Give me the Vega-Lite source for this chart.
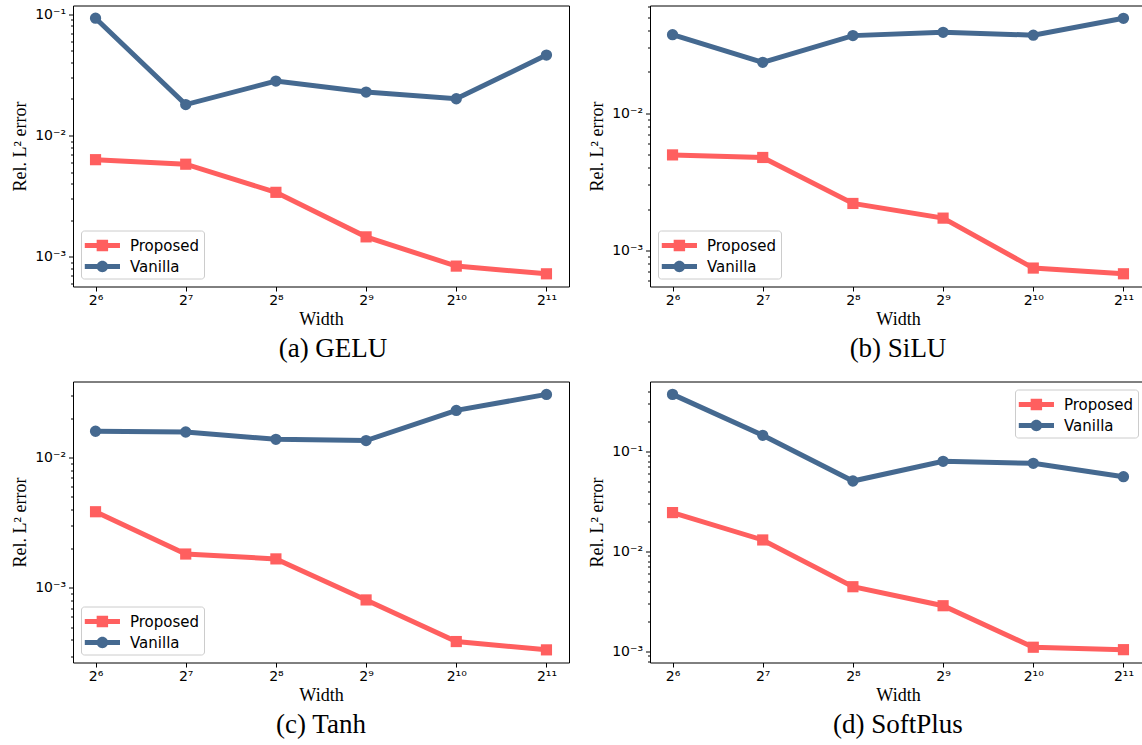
{
  "$schema": "https://vega.github.io/schema/vega-lite/v6.json",
  "background": "white",
  "padding": {"left": 10, "top": -1.5, "right": 0, "bottom": 0},
  "datasets": {
    "errors": [
      {"act": "GELU", "method": "Proposed", "width": 64, "error": 0.00632},
      {"act": "GELU", "method": "Proposed", "width": 128, "error": 0.0058},
      {"act": "GELU", "method": "Proposed", "width": 256, "error": 0.0034},
      {"act": "GELU", "method": "Proposed", "width": 512, "error": 0.00146},
      {"act": "GELU", "method": "Proposed", "width": 1024, "error": 0.000838},
      {"act": "GELU", "method": "Proposed", "width": 2048, "error": 0.000724},
      {"act": "GELU", "method": "Vanilla", "width": 64, "error": 0.0927},
      {"act": "GELU", "method": "Vanilla", "width": 128, "error": 0.018},
      {"act": "GELU", "method": "Vanilla", "width": 256, "error": 0.0281},
      {"act": "GELU", "method": "Vanilla", "width": 512, "error": 0.0228},
      {"act": "GELU", "method": "Vanilla", "width": 1024, "error": 0.0201},
      {"act": "GELU", "method": "Vanilla", "width": 2048, "error": 0.046},
      {"act": "SiLU", "method": "Proposed", "width": 64, "error": 0.00497},
      {"act": "SiLU", "method": "Proposed", "width": 128, "error": 0.00476},
      {"act": "SiLU", "method": "Proposed", "width": 256, "error": 0.0022},
      {"act": "SiLU", "method": "Proposed", "width": 512, "error": 0.00172},
      {"act": "SiLU", "method": "Proposed", "width": 1024, "error": 0.000744},
      {"act": "SiLU", "method": "Proposed", "width": 2048, "error": 0.000676},
      {"act": "SiLU", "method": "Vanilla", "width": 64, "error": 0.0374},
      {"act": "SiLU", "method": "Vanilla", "width": 128, "error": 0.0235},
      {"act": "SiLU", "method": "Vanilla", "width": 256, "error": 0.0368},
      {"act": "SiLU", "method": "Vanilla", "width": 512, "error": 0.0389},
      {"act": "SiLU", "method": "Vanilla", "width": 1024, "error": 0.0371},
      {"act": "SiLU", "method": "Vanilla", "width": 2048, "error": 0.0492},
      {"act": "Tanh", "method": "Proposed", "width": 64, "error": 0.00384},
      {"act": "Tanh", "method": "Proposed", "width": 128, "error": 0.00182},
      {"act": "Tanh", "method": "Proposed", "width": 256, "error": 0.00167},
      {"act": "Tanh", "method": "Proposed", "width": 512, "error": 0.000809},
      {"act": "Tanh", "method": "Proposed", "width": 1024, "error": 0.000388},
      {"act": "Tanh", "method": "Proposed", "width": 2048, "error": 0.000335},
      {"act": "Tanh", "method": "Vanilla", "width": 64, "error": 0.0159},
      {"act": "Tanh", "method": "Vanilla", "width": 128, "error": 0.0157},
      {"act": "Tanh", "method": "Vanilla", "width": 256, "error": 0.0138},
      {"act": "Tanh", "method": "Vanilla", "width": 512, "error": 0.0135},
      {"act": "Tanh", "method": "Vanilla", "width": 1024, "error": 0.023},
      {"act": "Tanh", "method": "Vanilla", "width": 2048, "error": 0.0305},
      {"act": "SoftPlus", "method": "Proposed", "width": 64, "error": 0.0244},
      {"act": "SoftPlus", "method": "Proposed", "width": 128, "error": 0.013},
      {"act": "SoftPlus", "method": "Proposed", "width": 256, "error": 0.00443},
      {"act": "SoftPlus", "method": "Proposed", "width": 512, "error": 0.00286},
      {"act": "SoftPlus", "method": "Proposed", "width": 1024, "error": 0.0011},
      {"act": "SoftPlus", "method": "Proposed", "width": 2048, "error": 0.00104},
      {"act": "SoftPlus", "method": "Vanilla", "width": 64, "error": 0.371},
      {"act": "SoftPlus", "method": "Vanilla", "width": 128, "error": 0.1445},
      {"act": "SoftPlus", "method": "Vanilla", "width": 256, "error": 0.0505},
      {"act": "SoftPlus", "method": "Vanilla", "width": 512, "error": 0.0794},
      {"act": "SoftPlus", "method": "Vanilla", "width": 1024, "error": 0.0759},
      {"act": "SoftPlus", "method": "Vanilla", "width": 2048, "error": 0.0558}
    ]
  },
  "columns": 2,
  "spacing": {"row": 95, "column": 81},
  "bounds": "flush",
  "resolve": {
    "scale": {"x": "independent", "y": "independent", "color": "independent", "shape": "independent"},
    "axis": {"x": "independent", "y": "independent"},
    "legend": {"color": "independent", "shape": "independent"}
  },
  "concat": [
    {
      "width": 496, "height": 281,
      "title": {"text": "(a) GELU", "orient": "bottom", "dx": 12, "offset": 8},
      "data": {"name": "errors"},
      "transform": [{"filter": "datum.act === 'GELU'"}],
      "encoding": {
        "x": {"field": "width", "type": "quantitative", "title": "Width",
          "scale": {"type": "log", "base": 2, "domain": [53.82, 2435.5], "nice": false},
          "axis": {"values": [64, 128, 256, 512, 1024, 2048], "labelExpr": "datum.value === 64 ? '2⁶' : datum.value === 128 ? '2⁷' : datum.value === 256 ? '2⁸' : datum.value === 512 ? '2⁹' : datum.value === 1024 ? '2¹⁰' : '2¹¹'", "tickSize": 4.5, "labelPadding": 2, "titlePadding": 3, "labelFlush": false, "labelOverlap": false}},
        "y": {"field": "error", "type": "quantitative", "title": "Rel. L² error",
          "scale": {"type": "log", "domain": [0.000569, 0.118], "nice": false},
          "axis": {"values": [0.0006, 0.0007, 0.0008, 0.0009, 0.001, 0.002, 0.003, 0.004, 0.005, 0.006, 0.007, 0.008, 0.009, 0.01, 0.02, 0.03, 0.04, 0.05, 0.06, 0.07, 0.08, 0.09, 0.1],
            "labelExpr": "datum.value === 0.1 ? '10⁻¹' : datum.value === 0.01 ? '10⁻²' : datum.value === 0.001 ? '10⁻³' : ''",
            "tickSize": {"condition": {"test": "datum.value === 0.1 || datum.value === 0.01 || datum.value === 0.001", "value": 4.5}, "value": 2.5},
            "labelPadding": 3, "titlePadding": 5.5, "labelFlush": false, "labelOverlap": false}}
      },
      "layer": [
        {"transform": [{"filter": "datum.method === 'Proposed'"}],
         "mark": {"type": "line", "color": "#FF5F5F", "strokeWidth": 5, "point": {"shape": "square", "size": 125, "filled": true, "opacity": 1, "color": "#FF5F5F"}},
         "encoding": {}},
        {"transform": [{"filter": "datum.method === 'Vanilla'"}],
         "mark": {"type": "line", "color": "#456990", "strokeWidth": 5, "point": {"shape": "circle", "size": 128, "filled": true, "opacity": 1, "color": "#456990"}},
         "encoding": {}},
        {"transform": [{"filter": "false"}],
         "mark": {"type": "point", "filled": true, "opacity": 1},
         "encoding": {
           "color": {"field": "method", "type": "nominal", "scale": {"domain": ["Proposed", "Vanilla"], "range": ["#FF5F5F", "#456990"]},
             "legend": {"title": null, "orient": "bottom-left", "offset": 8, "fillColor": "white", "strokeColor": "#cccccc", "cornerRadius": 3, "padding": 4, "symbolSize": 484, "symbolOpacity": 1, "symbolStrokeWidth": 0, "labelFont": "DejaVu Sans", "labelFontSize": 15, "labelColor": "black", "labelOffset": 23, "rowPadding": 2}},
           "shape": {"field": "method", "type": "nominal", "scale": {"domain": ["Proposed", "Vanilla"], "range": ["M-1.02,-0.23L2.18,-0.23L2.18,0.23L-1.02,0.23Z M0.06,-0.52L1.1,-0.52L1.1,0.52L0.06,0.52Z", "M-1.02,-0.23L2.18,-0.23L2.18,0.23L-1.02,0.23Z M1.1,0A0.52,0.52,0,1,1,0.06,0A0.52,0.52,0,1,1,1.1,0Z"]}}
         }}
      ]
    },
    {
      "width": 496, "height": 281,
      "title": {"text": "(b) SiLU", "orient": "bottom", "offset": 8},
      "data": {"name": "errors"},
      "transform": [{"filter": "datum.act === 'SiLU'"}],
      "encoding": {
        "x": {"field": "width", "type": "quantitative", "title": "Width",
          "scale": {"type": "log", "base": 2, "domain": [53.82, 2435.5], "nice": false},
          "axis": {"values": [64, 128, 256, 512, 1024, 2048], "labelExpr": "datum.value === 64 ? '2⁶' : datum.value === 128 ? '2⁷' : datum.value === 256 ? '2⁸' : datum.value === 512 ? '2⁹' : datum.value === 1024 ? '2¹⁰' : '2¹¹'", "tickSize": 4.5, "labelPadding": 2, "titlePadding": 3, "labelFlush": false, "labelOverlap": false}},
        "y": {"field": "error", "type": "quantitative", "title": "Rel. L² error",
          "scale": {"type": "log", "domain": [0.000546, 0.061], "nice": false},
          "axis": {"values": [0.0006, 0.0007, 0.0008, 0.0009, 0.001, 0.002, 0.003, 0.004, 0.005, 0.006, 0.007, 0.008, 0.009, 0.01, 0.02, 0.03, 0.04, 0.05, 0.06],
            "labelExpr": "datum.value === 0.1 ? '10⁻¹' : datum.value === 0.01 ? '10⁻²' : datum.value === 0.001 ? '10⁻³' : ''",
            "tickSize": {"condition": {"test": "datum.value === 0.1 || datum.value === 0.01 || datum.value === 0.001", "value": 4.5}, "value": 2.5},
            "labelPadding": 3, "titlePadding": 5.5, "labelFlush": false, "labelOverlap": false}}
      },
      "layer": [
        {"transform": [{"filter": "datum.method === 'Proposed'"}],
         "mark": {"type": "line", "color": "#FF5F5F", "strokeWidth": 5, "point": {"shape": "square", "size": 125, "filled": true, "opacity": 1, "color": "#FF5F5F"}},
         "encoding": {}},
        {"transform": [{"filter": "datum.method === 'Vanilla'"}],
         "mark": {"type": "line", "color": "#456990", "strokeWidth": 5, "point": {"shape": "circle", "size": 128, "filled": true, "opacity": 1, "color": "#456990"}},
         "encoding": {}},
        {"transform": [{"filter": "false"}],
         "mark": {"type": "point", "filled": true, "opacity": 1},
         "encoding": {
           "color": {"field": "method", "type": "nominal", "scale": {"domain": ["Proposed", "Vanilla"], "range": ["#FF5F5F", "#456990"]},
             "legend": {"title": null, "orient": "bottom-left", "offset": 8, "fillColor": "white", "strokeColor": "#cccccc", "cornerRadius": 3, "padding": 4, "symbolSize": 484, "symbolOpacity": 1, "symbolStrokeWidth": 0, "labelFont": "DejaVu Sans", "labelFontSize": 15, "labelColor": "black", "labelOffset": 23, "rowPadding": 2}},
           "shape": {"field": "method", "type": "nominal", "scale": {"domain": ["Proposed", "Vanilla"], "range": ["M-1.02,-0.23L2.18,-0.23L2.18,0.23L-1.02,0.23Z M0.06,-0.52L1.1,-0.52L1.1,0.52L0.06,0.52Z", "M-1.02,-0.23L2.18,-0.23L2.18,0.23L-1.02,0.23Z M1.1,0A0.52,0.52,0,1,1,0.06,0A0.52,0.52,0,1,1,1.1,0Z"]}}
         }}
      ]
    },
    {
      "width": 496, "height": 281,
      "title": {"text": "(c) Tanh", "orient": "bottom", "offset": 8},
      "data": {"name": "errors"},
      "transform": [{"filter": "datum.act === 'Tanh'"}],
      "encoding": {
        "x": {"field": "width", "type": "quantitative", "title": "Width",
          "scale": {"type": "log", "base": 2, "domain": [53.82, 2435.5], "nice": false},
          "axis": {"values": [64, 128, 256, 512, 1024, 2048], "labelExpr": "datum.value === 64 ? '2⁶' : datum.value === 128 ? '2⁷' : datum.value === 256 ? '2⁸' : datum.value === 512 ? '2⁹' : datum.value === 1024 ? '2¹⁰' : '2¹¹'", "tickSize": 4.5, "labelPadding": 2, "titlePadding": 3, "labelFlush": false, "labelOverlap": false}},
        "y": {"field": "error", "type": "quantitative", "title": "Rel. L² error",
          "scale": {"type": "log", "domain": [0.000268, 0.0383], "nice": false},
          "axis": {"values": [0.0003, 0.0004, 0.0005, 0.0006, 0.0007, 0.0008, 0.0009, 0.001, 0.002, 0.003, 0.004, 0.005, 0.006, 0.007, 0.008, 0.009, 0.01, 0.02, 0.03],
            "labelExpr": "datum.value === 0.1 ? '10⁻¹' : datum.value === 0.01 ? '10⁻²' : datum.value === 0.001 ? '10⁻³' : ''",
            "tickSize": {"condition": {"test": "datum.value === 0.1 || datum.value === 0.01 || datum.value === 0.001", "value": 4.5}, "value": 2.5},
            "labelPadding": 3, "titlePadding": 5.5, "labelFlush": false, "labelOverlap": false}}
      },
      "layer": [
        {"transform": [{"filter": "datum.method === 'Proposed'"}],
         "mark": {"type": "line", "color": "#FF5F5F", "strokeWidth": 5, "point": {"shape": "square", "size": 125, "filled": true, "opacity": 1, "color": "#FF5F5F"}},
         "encoding": {}},
        {"transform": [{"filter": "datum.method === 'Vanilla'"}],
         "mark": {"type": "line", "color": "#456990", "strokeWidth": 5, "point": {"shape": "circle", "size": 128, "filled": true, "opacity": 1, "color": "#456990"}},
         "encoding": {}},
        {"transform": [{"filter": "false"}],
         "mark": {"type": "point", "filled": true, "opacity": 1},
         "encoding": {
           "color": {"field": "method", "type": "nominal", "scale": {"domain": ["Proposed", "Vanilla"], "range": ["#FF5F5F", "#456990"]},
             "legend": {"title": null, "orient": "bottom-left", "offset": 8, "fillColor": "white", "strokeColor": "#cccccc", "cornerRadius": 3, "padding": 4, "symbolSize": 484, "symbolOpacity": 1, "symbolStrokeWidth": 0, "labelFont": "DejaVu Sans", "labelFontSize": 15, "labelColor": "black", "labelOffset": 23, "rowPadding": 2}},
           "shape": {"field": "method", "type": "nominal", "scale": {"domain": ["Proposed", "Vanilla"], "range": ["M-1.02,-0.23L2.18,-0.23L2.18,0.23L-1.02,0.23Z M0.06,-0.52L1.1,-0.52L1.1,0.52L0.06,0.52Z", "M-1.02,-0.23L2.18,-0.23L2.18,0.23L-1.02,0.23Z M1.1,0A0.52,0.52,0,1,1,0.06,0A0.52,0.52,0,1,1,1.1,0Z"]}}
         }}
      ]
    },
    {
      "width": 496, "height": 281,
      "title": {"text": "(d) SoftPlus", "orient": "bottom", "offset": 8},
      "data": {"name": "errors"},
      "transform": [{"filter": "datum.act === 'SoftPlus'"}],
      "encoding": {
        "x": {"field": "width", "type": "quantitative", "title": "Width",
          "scale": {"type": "log", "base": 2, "domain": [53.82, 2435.5], "nice": false},
          "axis": {"values": [64, 128, 256, 512, 1024, 2048], "labelExpr": "datum.value === 64 ? '2⁶' : datum.value === 128 ? '2⁷' : datum.value === 256 ? '2⁸' : datum.value === 512 ? '2⁹' : datum.value === 1024 ? '2¹⁰' : '2¹¹'", "tickSize": 4.5, "labelPadding": 2, "titlePadding": 3, "labelFlush": false, "labelOverlap": false}},
        "y": {"field": "error", "type": "quantitative", "title": "Rel. L² error",
          "scale": {"type": "log", "domain": [0.000774, 0.499], "nice": false},
          "axis": {"values": [0.0008, 0.0009, 0.001, 0.002, 0.003, 0.004, 0.005, 0.006, 0.007, 0.008, 0.009, 0.01, 0.02, 0.03, 0.04, 0.05, 0.06, 0.07, 0.08, 0.09, 0.1, 0.2, 0.3, 0.4],
            "labelExpr": "datum.value === 0.1 ? '10⁻¹' : datum.value === 0.01 ? '10⁻²' : datum.value === 0.001 ? '10⁻³' : ''",
            "tickSize": {"condition": {"test": "datum.value === 0.1 || datum.value === 0.01 || datum.value === 0.001", "value": 4.5}, "value": 2.5},
            "labelPadding": 3, "titlePadding": 5.5, "labelFlush": false, "labelOverlap": false}}
      },
      "layer": [
        {"transform": [{"filter": "datum.method === 'Proposed'"}],
         "mark": {"type": "line", "color": "#FF5F5F", "strokeWidth": 5, "point": {"shape": "square", "size": 125, "filled": true, "opacity": 1, "color": "#FF5F5F"}},
         "encoding": {}},
        {"transform": [{"filter": "datum.method === 'Vanilla'"}],
         "mark": {"type": "line", "color": "#456990", "strokeWidth": 5, "point": {"shape": "circle", "size": 128, "filled": true, "opacity": 1, "color": "#456990"}},
         "encoding": {}},
        {"transform": [{"filter": "false"}],
         "mark": {"type": "point", "filled": true, "opacity": 1},
         "encoding": {
           "color": {"field": "method", "type": "nominal", "scale": {"domain": ["Proposed", "Vanilla"], "range": ["#FF5F5F", "#456990"]},
             "legend": {"title": null, "orient": "top-right", "offset": 8, "fillColor": "white", "strokeColor": "#cccccc", "cornerRadius": 3, "padding": 4, "symbolSize": 484, "symbolOpacity": 1, "symbolStrokeWidth": 0, "labelFont": "DejaVu Sans", "labelFontSize": 15, "labelColor": "black", "labelOffset": 23, "rowPadding": 2}},
           "shape": {"field": "method", "type": "nominal", "scale": {"domain": ["Proposed", "Vanilla"], "range": ["M-1.02,-0.23L2.18,-0.23L2.18,0.23L-1.02,0.23Z M0.06,-0.52L1.1,-0.52L1.1,0.52L0.06,0.52Z", "M-1.02,-0.23L2.18,-0.23L2.18,0.23L-1.02,0.23Z M1.1,0A0.52,0.52,0,1,1,0.06,0A0.52,0.52,0,1,1,1.1,0Z"]}}
         }}
      ]
    }
  ],
  "config": {
    "view": {"stroke": "#000000", "strokeWidth": 1},
    "axis": {"domain": false, "grid": false, "tickColor": "#000000", "tickWidth": 1, "labelFont": "DejaVu Sans", "labelFontSize": 14, "labelColor": "#000000", "titleFont": "Liberation Serif", "titleFontSize": 18, "titleFontWeight": "normal", "titleColor": "#000000"},
    "title": {"font": "Liberation Serif", "fontSize": 27, "fontWeight": "normal", "color": "#000000", "anchor": "middle", "frame": "group"}
  }
}
